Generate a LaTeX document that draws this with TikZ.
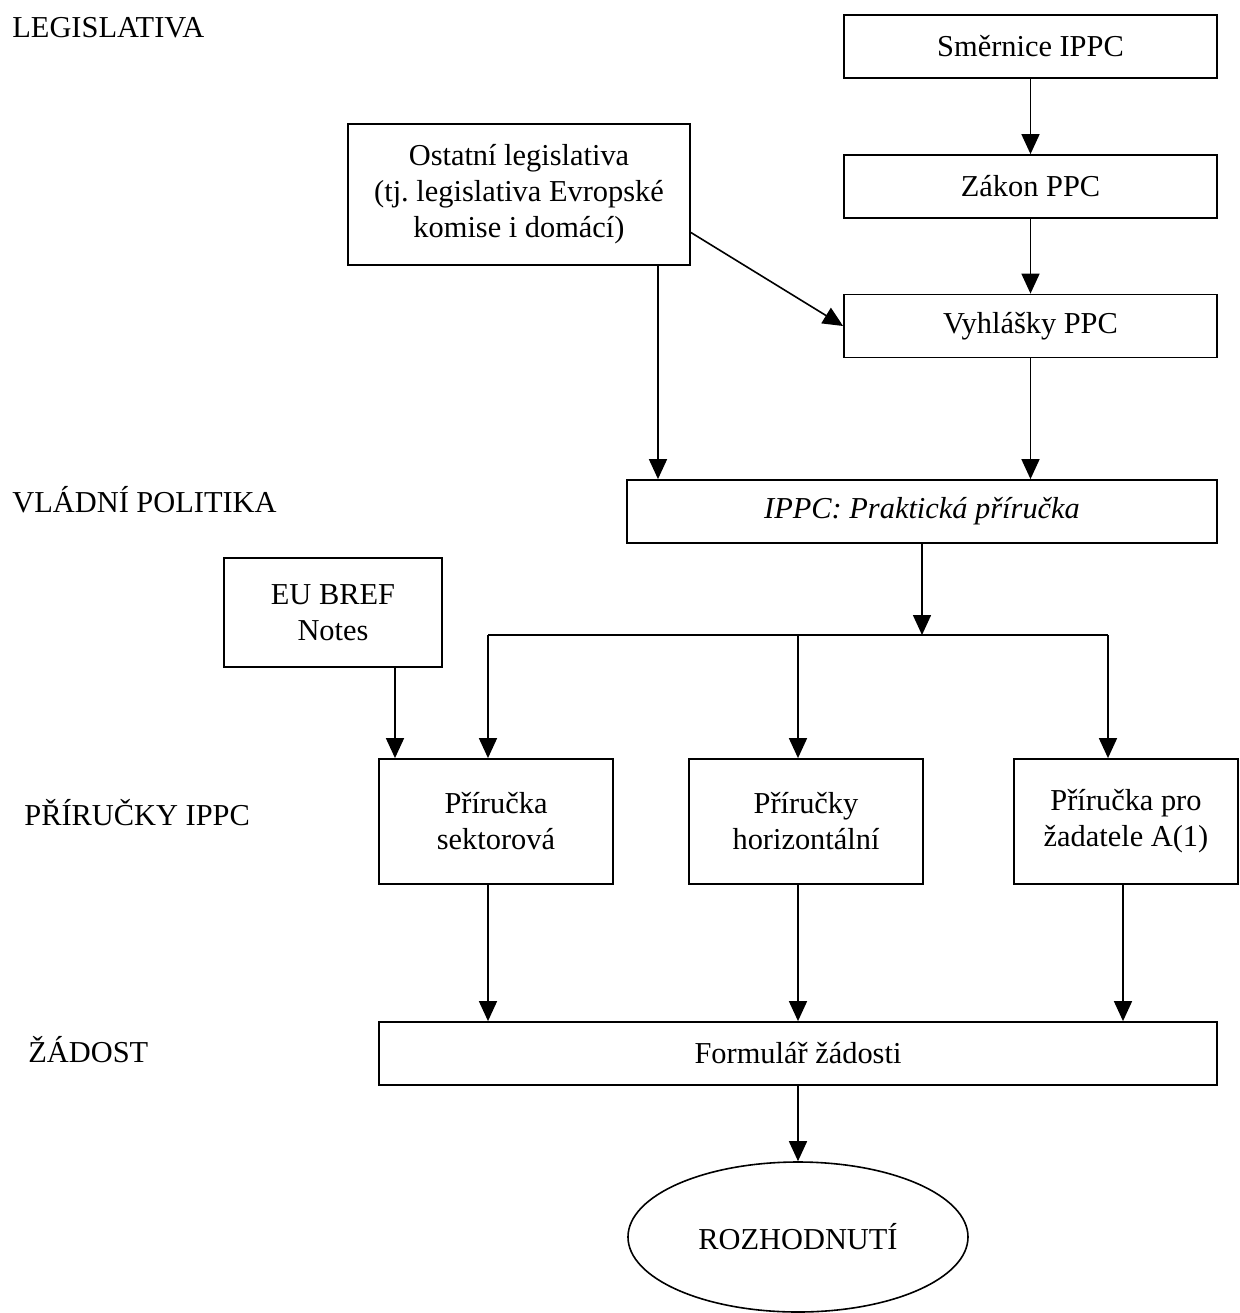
\documentclass[tikz,border=0pt]{standalone}
\usepackage{fontspec}
\setmainfont{Liberation Serif}
\usetikzlibrary{arrows.meta}
\usetikzlibrary{shapes.geometric}

\begin{document}
\begin{tikzpicture}
[x=0.5pt,y=-0.5pt,font=\fontsize{15.2}{18}\selectfont,
 box/.style={draw,line width=0.9pt,rectangle,align=center,inner sep=0pt},
 lbl/.style={anchor=base west,inner sep=0pt},
 ar/.style={-{Triangle[length=10pt,width=9pt]},line width=0.8pt}]
\useasboundingbox (0,0) rectangle (1239,1313);

% urovne
\node [lbl] at (12,37) (legis) {LEGISLATIVA};
\node [lbl] at (12,512) (vlada) {VLÁDNÍ POLITIKA};
\node [lbl] at (24,825) (prirIPPC) {PŘÍRUČKY IPPC};
\node [lbl] at (28,1062) (zadost) {ŽÁDOST};

% legislativa
\node [box][minimum width=186.5pt,minimum height=31.5pt] at (1030.5,46.5) (smer) {Směrnice IPPC};
\node [box][minimum width=186.5pt,minimum height=31.5pt] at (1030.5,186.5) (zakon) {Zákon PPC};
\node [box][minimum width=186.5pt,minimum height=31.5pt] at (1030.5,326) (vyhl) {Vyhlášky PPC};
\node [box][minimum width=171pt,minimum height=70.5pt] at (519,194.5) (ostatni) {Ostatní legislativa\\(tj.\ legislativa Evropské\\komise i domácí)};

% politika
\node [box][minimum width=295pt,minimum height=31.5pt] at (922,511.5) (prakt) {\textit{IPPC: Praktická příručka}};
\node [box][minimum width=109pt,minimum height=54.5pt] at (333,612.5) (bref) {EU BREF\\Notes};

% prirucky
\node [box][minimum width=117pt,minimum height=62.5pt] at (496,821.5) (sekt) {Příručka\\sektorová};
\node [box][minimum width=117pt,minimum height=62.5pt] at (806,821.5) (horiz) {Příručky\\horizontální};
\node [box][minimum width=112pt,minimum height=62.5pt] at (1126,821.5) (zad) {Příručka pro\\žadatele A(1)};

% zadost a rozhodnuti
\node [box][minimum width=419pt,minimum height=31.5pt] at (798,1053.5) (form) {Formulář žádosti};
\node [draw,ellipse,line width=0.8pt,inner sep=0pt,minimum width=170pt,minimum height=75pt] at (798,1237) (rozh) {ROZHODNUTÍ};

\coordinate (split) at (922,635);
\coordinate (busL) at (488,635);
\coordinate (busM) at (798,635);
\coordinate (busR) at (1108,635);

\draw [ar] (smer) -- (zakon);
\draw [ar] (zakon) -- (vyhl);
\draw [ar] ([yshift=-19pt]ostatni.east) -- (vyhl.west);
\draw [ar] ([xshift=69.5pt]ostatni.south) -- ([xshift=69.5pt]ostatni.south |- prakt.north);
\draw [ar] (vyhl.south) -- (vyhl.south |- prakt.north);

\draw [ar] (prakt) -- (split);
\draw [line width=0.8pt] (busL) -- (busR);
\draw [ar] (busL) -- (busL |- sekt.north);
\draw [ar] (busM) -- (busM |- horiz.north);
\draw [ar] (busR) -- (busR |- zad.north);
\draw [ar] ([xshift=31pt]bref.south) -- ([xshift=31pt]bref.south |- sekt.north);

\draw [ar] (busL |- sekt.south) -- (busL |- form.north);
\draw [ar] (busM |- horiz.south) -- (busM |- form.north);
\draw [ar] ([xshift=-1.5pt]zad.south) -- ([xshift=-1.5pt]zad.south |- form.north);

\draw [ar] (form) -- (rozh);
\end{tikzpicture}
\end{document}
